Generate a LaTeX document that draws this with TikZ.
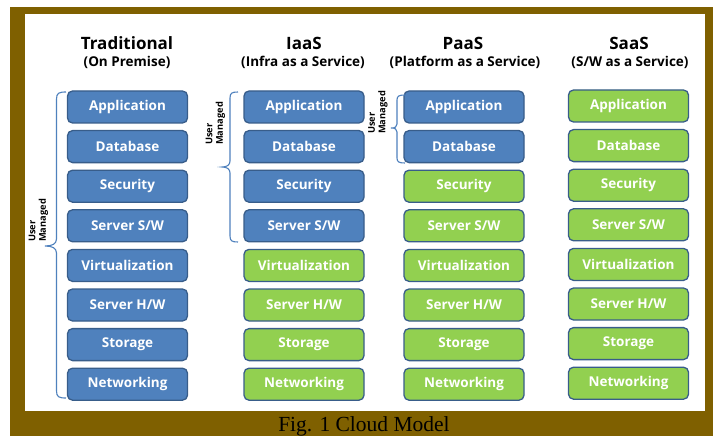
\documentclass[tikz,border=0pt]{standalone}
\usepackage{fontspec}
\setmainfont{Open Sans}
\newfontfamily\capfont{Liberation Serif}

\definecolor{frameol}{HTML}{7F6000}
\definecolor{tierblue}{HTML}{4F81BD}
\definecolor{tiergreen}{HTML}{92D050}
\definecolor{tieredge}{HTML}{385D8A}
\definecolor{bracecol}{HTML}{4F81BD}

\tikzset{
  tier/.style={draw=tieredge, line width=1.3pt, rounded corners=5pt,
    minimum width=120pt, minimum height=32pt, inner sep=0pt,
    text=white, font=\bfseries\fontsize{13.5}{15}\selectfont},
  own/.style={tier, fill=tierblue},
  vend/.style={tier, fill=tiergreen},
  coltitle/.style={font=\bfseries\fontsize{17}{19}\selectfont, inner sep=0pt},
  colsub/.style={font=\bfseries\fontsize{13.5}{15}\selectfont, inner sep=0pt},
  bracket/.style={draw=bracecol, line width=1.1pt},
  umlabel/.style={rotate=90, anchor=west, align=left, inner sep=0pt,
    font=\bfseries\fontsize{9.3}{10.5}\selectfont}
}

\begin{document}
\begin{tikzpicture}[x=1pt,y=-1pt]
\useasboundingbox (0,0) rectangle (713,436);
\clip (0,0) rectangle (713,436);
% frame
\fill[white] (0,0) rectangle (713,436);
\fill[frameol] (10,7) rectangle (713,436);
\fill[white] (25,14) rectangle (705,411);

% column headings
\node[coltitle] (ttrad) at (127,43) {Traditional};
\node[colsub]   (strad) at (127,62) {(On Premise)};
\node[coltitle] (tiaas) at (304,43) {IaaS};
\node[colsub]   (siaas) at (303,62) {(Infra as a Service)};
\node[coltitle] (tpaas) at (463,43) {PaaS};
\node[colsub]   (spaas) at (465,62) {(Platform as a Service)};
\node[coltitle] (tsaas) at (629,43) {SaaS};
\node[colsub]   (ssaas) at (630,62) {(S/W as a Service)};

% stacks of layers
\foreach \lab [count=\i from 0] in {Application,Database,Security,Server S/W,Virtualization,Server H/W,Storage,Networking}{
  \pgfmathsetmacro\yy{107+39.6*\i}
  \node[own] (t\i) at (127.5,\yy) {\lab};
  \ifnum\i<4
    \node[own] (i\i) at (304,\yy) {\lab};
  \else
    \node[vend] (i\i) at (304,\yy) {\lab};
  \fi
  \ifnum\i<2
    \node[own] (p\i) at (464,\yy) {\lab};
  \else
    \node[vend] (p\i) at (464,\yy) {\lab};
  \fi
  \node[vend] (s\i) at (628.5,\yy-1) {\lab};
}

% user-managed brackets
\draw[bracket] (66,92) .. controls (59,92) and (56.5,93) .. (56.5,99)
  -- (56.5,239) .. controls (56.5,244) and (52,246) .. (45,246)
  .. controls (52,246) and (56.5,248) .. (56.5,253)
  -- (56.5,391) .. controls (56.5,397) and (59,398) .. (66,398);
\node[umlabel] (umtrad) at (38.5,242) {User\\Managed};

\draw[bracket] (238,92) .. controls (232,92) and (230,93) .. (230,98)
  -- (230,161) .. controls (230,165) and (227,167) .. (222,167)
  .. controls (227,167) and (230,169) .. (230,173)
  -- (230,236) .. controls (230,241) and (232,242) .. (238,242);
\node[umlabel] (umiaas) at (215.5,145) {User\\Managed};

\draw[bracket] (405,95) .. controls (399,95) and (397,96) .. (397,100)
  -- (397,124) .. controls (397,127) and (395,128) .. (391,128)
  .. controls (395,128) and (397,129) .. (397,132)
  -- (397,158) .. controls (397,162) and (399,163) .. (405,163);
\node[umlabel] (umpaas) at (378,134) {User\\Managed};

% caption
\node[font=\capfont\fontsize{21.5}{23}\selectfont, anchor=base, inner sep=0pt] (cap) at (364,431.5) {Fig. 1 Cloud Model};
\end{tikzpicture}
\end{document}
